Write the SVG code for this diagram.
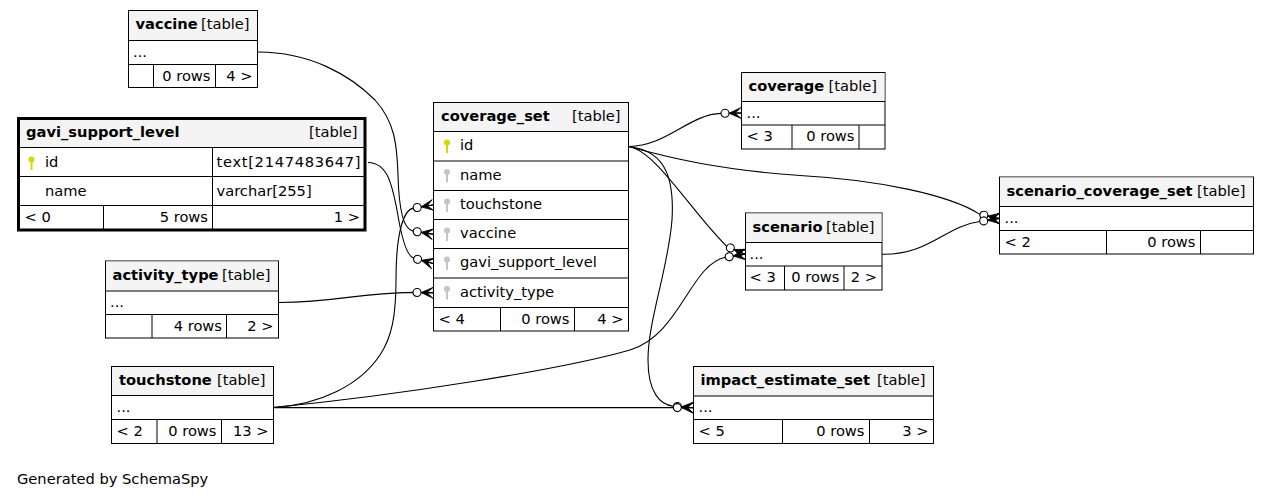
<svg xmlns="http://www.w3.org/2000/svg" xmlns:xlink="http://www.w3.org/1999/xlink" width="1269" height="499" viewBox="0 0 1269 499">
<style>
text{font-family:"DejaVu Sans","Liberation Sans",sans-serif;font-size:14.67px;fill:#000}
.b{font-weight:bold}
.e{text-anchor:end}
.body{fill:#fff;stroke:#000;stroke-width:1}
.thick{fill:none;stroke:#000;stroke-width:3}
.hdr{fill:#f4f4f4;stroke:none}
.ln{stroke:#000;stroke-width:1;fill:none}
.edge{fill:none;stroke:#000;stroke-width:1.1;marker-end:url(#crowodot)}
</style>
<defs>
<marker id="crowodot" viewBox="0 -7 21 14" refX="20" refY="0" markerWidth="21" markerHeight="14" markerUnits="userSpaceOnUse" orient="auto" overflow="visible">
<circle cx="4" cy="0" r="4" fill="#fff" stroke="#000" stroke-width="1.1"/>
<polygon points="8,0 20,5.4 14,0 20,0 14,0 20,-5.4" fill="#000" stroke="#000" stroke-width="0.8" stroke-linejoin="round"/>
</marker>
<g id="pk"><circle cx="0" cy="0" r="3" fill="#d6d600"/><rect x="-1" y="1" width="2" height="9.5" fill="#d6d600"/></g>
<g id="fk"><circle cx="0" cy="0" r="3" fill="#c4c4c4"/><rect x="-1" y="1" width="2" height="9.5" fill="#c4c4c4"/></g>
</defs>
<rect width="1269" height="499" fill="#fff"/>

<g id="connectors">
<path class="edge" d="M258,52 C310,52 350,75 375,100 C395,122 397,145 398,175 C399,215 405,230 413.2,231.1 L433,234.2"/>
<path class="edge" d="M368,162.5 C388,163 392,185 397,210 C401,235 406,256 413.7,258.2 L433,263.5"/>
<path class="edge" d="M273.5,407.5 C320,405 360,385 380,355 C392,337 396,315 396,280 C396,228 405,209.3 413.25,208.1 L433,205"/>
<path class="edge" d="M279,302.5 C340,302 355,293 413,292.4 L433,292.8"/>
<path class="edge" d="M628.5,146.5 C665,147 690,114 721,113.4 L741,113"/>
<path class="edge" d="M628.5,146.5 C670,158 720,170 800,175.5 C880,180 950,195 979.9,214.35 L999.5,218.5"/>
<path class="edge" d="M628.5,146.5 C655,150 690,210 726.7,246.3 L745,254.3"/>
<path class="edge" d="M628.5,146.5 C660,150 675,170 672,220 C668,270 648,320 648,360 C648,392 660,405 673.35,406.2 L693.3,407.7"/>
<path class="edge" d="M273.5,407.5 C400,395 560,370 630,350 C680,335 690,265 725.2,257.3 L745,254.3"/>
<path class="edge" d="M273.5,407.6 L673.3,407.6 L693.3,407.6"/>
<path class="edge" d="M882,254.3 C930,255 945,226 979.7,221.5 L999.5,218.5"/>
</g>

<g id="vaccine">
<rect class="body" x="128.5" y="10.5" width="129" height="77"/>
<rect class="hdr" x="129" y="11" width="128" height="29.5"/>
<path class="ln" d="M128.5,40.5 H257.5 M128.5,64.5 H257.5 M153.5,64.5 V87.5 M215.5,64.5 V87.5"/>
<text class="b" x="135.5" y="29">vaccine</text><text class="e" x="249.5" y="29">[table]</text>
<text x="133" y="56.5">...</text>
<text class="e" x="210.5" y="80.5">0 rows</text><text class="e" x="252.5" y="80.5">4 &gt;</text>
</g>

<g id="gavi_support_level">
<rect x="18.5" y="118.5" width="346.5" height="111.5" fill="#fff"/>
<rect class="hdr" x="18.5" y="118.5" width="346.5" height="29"/>
<path class="ln" d="M18.5,147.5 H365 M18.5,176.5 H365 M18.5,205.5 H365 M212.5,147.5 V230 M103.5,205.5 V230"/>
<rect class="thick" x="18.5" y="118.5" width="346.5" height="111.5"/>
<text class="b" x="26" y="137">gavi_support_level</text><text class="e" x="357.5" y="137">[table]</text>
<use xlink:href="#pk" href="#pk" x="31.5" y="159.5"/>
<text x="45" y="166.5">id</text><text x="216.5" y="166.5" textLength="144" lengthAdjust="spacing">text[2147483647]</text>
<text x="45" y="196">name</text><text x="216.5" y="196">varchar[255]</text>
<text x="24.5" y="221.5">&lt; 0</text><text class="e" x="208" y="221.5">5 rows</text><text class="e" x="360" y="221.5">1 &gt;</text>
</g>

<g id="coverage_set">
<rect class="body" x="433.5" y="102.5" width="195" height="228.5"/>
<rect class="hdr" x="434" y="103" width="194" height="28.5"/>
<path class="ln" d="M433.5,131.5 H628.5 M433.5,161 H628.5 M433.5,190.5 H628.5 M433.5,219.5 H628.5 M433.5,248.5 H628.5 M433.5,278 H628.5 M433.5,307.5 H628.5 M500.5,307.5 V331 M574.5,307.5 V331"/>
<text class="b" x="441" y="121">coverage_set</text><text class="e" x="620.5" y="121">[table]</text>
<use xlink:href="#pk" href="#pk" x="447" y="142.5"/>
<use xlink:href="#fk" href="#fk" x="447" y="172"/>
<use xlink:href="#fk" href="#fk" x="447" y="201.5"/>
<use xlink:href="#fk" href="#fk" x="447" y="230.5"/>
<use xlink:href="#fk" href="#fk" x="447" y="259.5"/>
<use xlink:href="#fk" href="#fk" x="447" y="289"/>
<text x="460" y="150">id</text>
<text x="460" y="179.5">name</text>
<text x="460" y="208.5">touchstone</text>
<text x="460" y="238">vaccine</text>
<text x="460" y="267">gavi_support_level</text>
<text x="460" y="296.5">activity_type</text>
<text x="438.5" y="323.5">&lt; 4</text><text class="e" x="569.5" y="323.5">0 rows</text><text class="e" x="623.5" y="323.5">4 &gt;</text>
</g>

<g id="coverage">
<rect class="body" x="741.5" y="72.5" width="143.5" height="76.5"/>
<rect class="hdr" x="742" y="73" width="142.5" height="28.5"/>
<path class="ln" d="M741.5,101.5 H885 M741.5,125 H885 M792,125 V149 M859,125 V149"/>
<text class="b" x="748.5" y="91">coverage</text><text class="e" x="877" y="91">[table]</text>
<text x="746.5" y="117.5">...</text>
<text x="746.5" y="141">&lt; 3</text><text class="e" x="854.5" y="141">0 rows</text>
</g>

<g id="scenario">
<rect class="body" x="745.5" y="213" width="136.5" height="77"/>
<rect class="hdr" x="746" y="213.5" width="135.5" height="29"/>
<path class="ln" d="M745.5,242.5 H882 M745.5,266 H882 M784.5,266 V290 M844,266 V290"/>
<text class="b" x="752.5" y="231.5">scenario</text><text class="e" x="874.5" y="231.5">[table]</text>
<text x="749.5" y="258.5">...</text>
<text x="749.5" y="282">&lt; 3</text><text class="e" x="839.5" y="282">0 rows</text><text class="e" x="877" y="282">2 &gt;</text>
</g>

<g id="scenario_coverage_set">
<rect class="body" x="999.5" y="177" width="254" height="77"/>
<rect class="hdr" x="1000" y="177.5" width="253" height="29"/>
<path class="ln" d="M999.5,206.5 H1253.5 M999.5,230.5 H1253.5 M1106.5,230.5 V254 M1200.5,230.5 V254"/>
<text class="b" x="1006.5" y="195.5">scenario_coverage_set</text><text class="e" x="1245.5" y="195.5">[table]</text>
<text x="1004.5" y="222.5">...</text>
<text x="1004.5" y="246.5">&lt; 2</text><text class="e" x="1195.5" y="246.5">0 rows</text>
</g>

<g id="activity_type">
<rect class="body" x="105.5" y="261" width="173" height="77"/>
<rect class="hdr" x="106" y="261.5" width="172" height="29.5"/>
<path class="ln" d="M105.5,291 H278.5 M105.5,314.5 H278.5 M152,314.5 V338 M226.5,314.5 V338"/>
<text class="b" x="112.5" y="279.5">activity_type</text><text class="e" x="270.5" y="279.5">[table]</text>
<text x="110" y="306.5">...</text>
<text class="e" x="222" y="330.5">4 rows</text><text class="e" x="273.5" y="330.5">2 &gt;</text>
</g>

<g id="touchstone">
<rect class="body" x="111.5" y="366.5" width="162" height="77"/>
<rect class="hdr" x="112" y="367" width="161" height="28.5"/>
<path class="ln" d="M111.5,395.5 H273.5 M111.5,419.5 H273.5 M157,419.5 V443.5 M221.5,419.5 V443.5"/>
<text class="b" x="119" y="385">touchstone</text><text class="e" x="265.5" y="385">[table]</text>
<text x="116.5" y="411.5">...</text>
<text x="116.5" y="435.5">&lt; 2</text><text class="e" x="216.5" y="435.5">0 rows</text><text class="e" x="268.5" y="435.5">13 &gt;</text>
</g>

<g id="impact_estimate_set">
<rect class="body" x="693.5" y="366.5" width="240" height="77"/>
<rect class="hdr" x="694" y="367" width="239" height="29"/>
<path class="ln" d="M693.5,396 H933.5 M693.5,419.5 H933.5 M782.5,419.5 V443.5 M869.5,419.5 V443.5"/>
<text class="b" x="700.5" y="385">impact_estimate_set</text><text class="e" x="925.5" y="385">[table]</text>
<text x="698.5" y="412">...</text>
<text x="698.5" y="435.5">&lt; 5</text><text class="e" x="864.5" y="435.5">0 rows</text><text class="e" x="928.5" y="435.5">3 &gt;</text>
</g>

<text x="17" y="484">Generated by SchemaSpy</text>
</svg>
